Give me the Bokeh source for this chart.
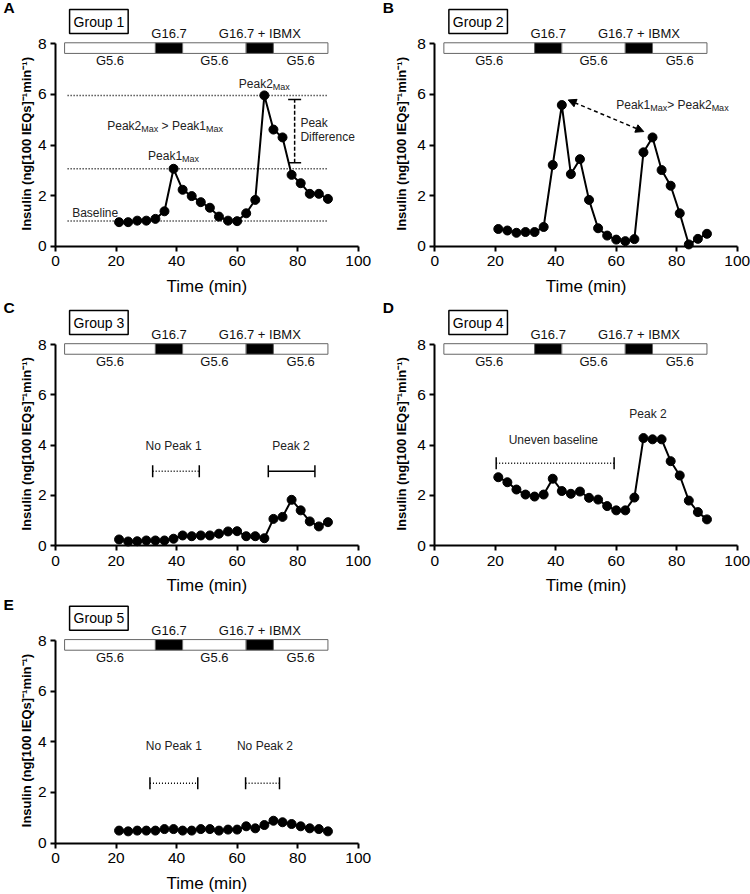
import math
from bokeh.plotting import figure
from bokeh.layouts import gridplot
from bokeh.models import (Label, Whisker, TeeHead, Arrow, NormalHead,
                          ColumnDataSource, FixedTicker)
from bokeh.core.properties import value
from bokeh.embed import file_html
from bokeh.resources import INLINE

# ---------------- data ----------------
time_min = [21, 24, 27, 30, 33, 36, 39, 42, 45, 48, 51, 54,
            57, 60, 63, 66, 69, 72, 75, 78, 81, 84, 87, 90]

group1_insulin = [0.95, 0.95, 1.01, 1.01, 1.08, 1.38, 3.06, 2.23, 1.98, 1.74, 1.52, 1.17,
                  1.01, 0.99, 1.30, 1.83, 5.96, 4.61, 4.30, 2.82, 2.49, 2.07, 2.07, 1.87]
group2_insulin = [0.68, 0.62, 0.53, 0.56, 0.56, 0.76, 3.21, 5.58, 2.85, 3.44, 1.83, 0.71,
                  0.42, 0.26, 0.20, 0.28, 3.71, 4.30, 3.01, 2.39, 1.30, 0.07, 0.29, 0.49]
group3_insulin = [0.24, 0.16, 0.17, 0.20, 0.20, 0.20, 0.27, 0.40, 0.37, 0.40, 0.40, 0.47,
                  0.56, 0.57, 0.37, 0.37, 0.29, 1.06, 1.14, 1.82, 1.40, 0.96, 0.76, 0.93]
group4_insulin = [2.72, 2.52, 2.23, 2.03, 1.95, 2.03, 2.66, 2.17, 2.06, 2.15, 1.90, 1.83,
                  1.57, 1.40, 1.40, 1.91, 4.28, 4.23, 4.23, 3.36, 2.79, 1.79, 1.33, 1.04]
group5_insulin = [0.49, 0.46, 0.49, 0.49, 0.49, 0.55, 0.55, 0.49, 0.49, 0.55, 0.55, 0.49,
                  0.53, 0.53, 0.66, 0.58, 0.71, 0.88, 0.82, 0.75, 0.66, 0.58, 0.55, 0.46]

group1_baseline = 1.0

# perifusion protocol (min)
phase_start = [3, 33, 42, 63, 72]
phase_end = [33, 42, 63, 72, 90]
phase_label = ["G5.6", "G16.7", "G5.6", "G16.7 + IBMX", "G5.6"]
phase_stim = [False, True, False, True, False]

x_ticks = [0, 20, 40, 60, 80, 100]
y_ticks = [0, 2, 4, 6, 8]

x_title = "Time (min)"
y_title = "Insulin (ng[100 IEQs]\u207b\u00b9min\u207b\u00b9)"

FONT = "Liberation Sans"
LIFT = 4  # px, compensates the svg alphabetic-baseline drop

ARIAL = {'P': .667, 'e': .556, 'a': .556, 'k': .5, '1': .556, '2': .556, ' ': .278,
         '>': .584, 'M': .833, 'x': .5, 'N': .722, 'o': .556}


def tw(s, size):
    return sum(ARIAL.get(c, .556) for c in s) * size


def rich(p, x, y, parts, align="left", size=12, sub=9):
    widths = [tw(t, sub if s else size) for t, s in parts]
    off = -sum(widths) / 2 if align == "center" else 0
    for (t, s), w in zip(parts, widths):
        lead = len(t) - len(t.lstrip(" "))
        txt = t.lstrip(" ")
        p.add_layout(Label(x=x, y=y, text=txt, x_offset=off + tw(" " * lead, sub if s else size),
                           y_offset=(-3 if s else 0) + LIFT,
                           text_font=FONT, text_font_size=f"{sub if s else size}px",
                           text_baseline="alphabetic", text_align="left", text_color="#222"))
        off += w


def text(p, x, y, t, align="center", size=12):
    p.add_layout(Label(x=x, y=y, y_offset=LIFT, text=t, text_font=FONT,
                       text_font_size=f"{size}px", text_baseline="alphabetic",
                       text_align=align, text_color="#222"))


def bracket(p, x0, x1, y, dash):
    src = ColumnDataSource(dict(base=[y], lower=[x0], upper=[x1]))
    p.add_layout(Whisker(source=src, base="base", lower="lower", upper="upper",
                         dimension="width", line_color="black", line_width=1.5,
                         line_dash=dash,
                         lower_head=TeeHead(size=12, line_width=1.5, line_color="black"),
                         upper_head=TeeHead(size=12, line_width=1.5, line_color="black")))


def make_fig(letter, group, vals, width, axis_x, sx, height, axis_y, sy):
    x_range = (-axis_x / sx, 100 + (width - axis_x - 100 * sx) / sx)
    y_range = (-(height - axis_y) / sy, axis_y / sy)
    p = figure(width=width, height=height, x_range=x_range, y_range=y_range,
               output_backend="svg", toolbar_location=None, min_border=0,
               min_border_left=0, min_border_right=0, min_border_top=0,
               min_border_bottom=0)
    p.xgrid.visible = False
    p.ygrid.visible = False
    p.outline_line_color = None
    p.background_fill_color = "white"
    p.xaxis.fixed_location = 0
    p.yaxis.fixed_location = 0
    p.xaxis.bounds = (0, 100)
    p.yaxis.bounds = (0, 8)
    p.xaxis.ticker = FixedTicker(ticks=x_ticks)
    p.yaxis.ticker = FixedTicker(ticks=y_ticks)
    for ax in (p.xaxis[0], p.yaxis[0]):
        ax.axis_line_width = 2
        ax.axis_line_color = "black"
        ax.major_tick_line_width = 2
        ax.major_tick_line_color = "black"
        ax.major_tick_out = 5
        ax.major_tick_in = 0
        ax.minor_tick_line_color = None
        ax.major_label_text_font = FONT
        ax.major_label_text_font_size = "15.5px"
        ax.major_label_text_color = "black"
    p.xaxis.major_label_standoff = 5
    p.yaxis.major_label_standoff = 4

    # axis titles
    p.add_layout(Label(x=50, y=0, y_offset=-44 + LIFT, text=x_title, text_font=FONT,
                       text_font_size="17px", text_align="center",
                       text_baseline="alphabetic", text_color="black"))
    p.add_layout(Label(x=0, y=4.05, x_offset=-(axis_x - 26), text=y_title, text_font=FONT,
                       text_font_size="13px", text_font_style="bold", angle=math.pi / 2,
                       text_align="center", text_baseline="middle", text_color="black"))

    # protocol bar
    colors = ["black" if s else "white" for s in phase_stim]
    p.quad(left=phase_start, right=phase_end, bottom=7.62, top=8.04,
           fill_color=colors, line_color="#666", line_width=1)
    mids = [(a + b) / 2 for a, b in zip(phase_start, phase_end)]
    p.text(x=[m for m, s in zip(mids, phase_stim) if s], y=8.25, y_offset=-LIFT,
           text=[l for l, s in zip(phase_label, phase_stim) if s],
           text_align="center", text_baseline="alphabetic",
           text_font=value(FONT), text_font_size="13px", text_color="#111")
    p.text(x=[m for m, s in zip(mids, phase_stim) if not s], y=7.17, y_offset=-LIFT,
           text=[l for l, s in zip(phase_label, phase_stim) if not s],
           text_align="center", text_baseline="alphabetic",
           text_font=value(FONT), text_font_size="13px", text_color="#111")

    # data
    p.line(time_min, vals, line_color="black", line_width=2)
    p.scatter(time_min, vals, size=9, marker="circle", fill_color="black", line_color="black")

    # group box and panel letter
    p.add_layout(Label(x=3, y=8.88, x_offset=5, text=group, text_font=FONT,
                       text_font_size="14px", text_baseline="middle", text_align="left",
                       border_line_color="black", border_line_width=1.5,
                       background_fill_color="white", padding=4, text_color="black"))
    p.add_layout(Label(x=0, y=0, x_offset=-52, y_offset=247, text=letter,
                       text_font=FONT, text_font_size="15.5px", text_font_style="bold",
                       text_baseline="top", text_align="left", text_color="black"))
    return p


# geometry: (width, axis x, px per minute) per column; (height, axis y, px per unit) per row
LCOL = (375, 55, 3.027)
RCOL = (375, 59.3, 3.024)
ROW1 = (298, 245.7, 25.3)
ROW2 = (298, 247, 25.1)
ROW3 = (298, 246.5, 25.3)

# ---- Panel A ----
pA = make_fig("A", "Group 1", group1_insulin, *LCOL, *ROW1)
peak1 = max(v for t, v in zip(time_min, group1_insulin) if 33 <= t <= 60)
peak2 = max(v for t, v in zip(time_min, group1_insulin) if t >= 63)
peak1_t = time_min[group1_insulin.index(peak1)]
peak2_t = time_min[group1_insulin.index(peak2)]
levels = [peak2, peak1, group1_baseline]
pA.segment(x0=4, x1=90, y0=levels, y1=levels, line_color="black",
           line_width=1.5, line_dash="1 2")
rich(pA, peak1_t, 3.39, [("Peak1", False), ("Max", True)], align="center")
rich(pA, peak2_t, 6.26, [("Peak2", False), ("Max", True)], align="center")
rich(pA, 17.1, 4.60, [("Peak2", False), ("Max", True), (" > Peak1", False), ("Max", True)])
text(pA, 5.5, 1.17, "Baseline", align="left")
text(pA, 80.9, 4.70, "Peak", align="left")
text(pA, 80.9, 4.15, "Difference", align="left")
wsrc = ColumnDataSource(dict(base=[79], lower=[3.3], upper=[5.8]))
pA.add_layout(Whisker(source=wsrc, base="base", lower="lower", upper="upper",
                      dimension="height", line_color="black", line_width=1.5,
                      line_dash="4 2",
                      lower_head=TeeHead(size=13, line_width=1.5, line_color="black"),
                      upper_head=TeeHead(size=13, line_width=1.5, line_color="black")))

# ---- Panel B ----
pB = make_fig("B", "Group 2", group2_insulin, *RCOL, *ROW1)
pB.add_layout(Arrow(x_start=44.1, y_start=5.78, x_end=69.1, y_end=4.53,
                    line_color="black", line_width=1.5, line_dash="4 3",
                    start=NormalHead(size=8, fill_color="black", line_color="black"),
                    end=NormalHead(size=8, fill_color="black", line_color="black")))
rich(pB, 60.0, 5.41, [("Peak1", False), ("Max", True), ("> Peak2", False), ("Max", True)])

# ---- Panel C ----
pC = make_fig("C", "Group 3", group3_insulin, *LCOL, *ROW2)
text(pC, 39.0, 3.79, "No Peak 1")
text(pC, 77.8, 3.79, "Peak 2")
bracket(pC, 32.1, 47.5, 2.96, "1 2")
bracket(pC, 70.3, 85.7, 2.96, "solid")

# ---- Panel D ----
pD = make_fig("D", "Group 4", group4_insulin, *RCOL, *ROW2)
text(pD, 39.2, 4.05, "Uneven baseline")
text(pD, 70.5, 5.08, "Peak 2")
bracket(pD, 20.3, 59.3, 3.28, "1 2")

# ---- Panel E ----
pE = make_fig("E", "Group 5", group5_insulin, *LCOL, *ROW3)
text(pE, 39.1, 3.69, "No Peak 1")
text(pE, 69.2, 3.69, "No Peak 2")
bracket(pE, 31.2, 47.0, 2.36, "1 2")
bracket(pE, 62.8, 74.0, 2.36, "1 2")

grid = gridplot([[pA, pB], [pC, pD], [pE, None]], toolbar_location=None)

open("out.html", "w").write(file_html(grid, INLINE))
